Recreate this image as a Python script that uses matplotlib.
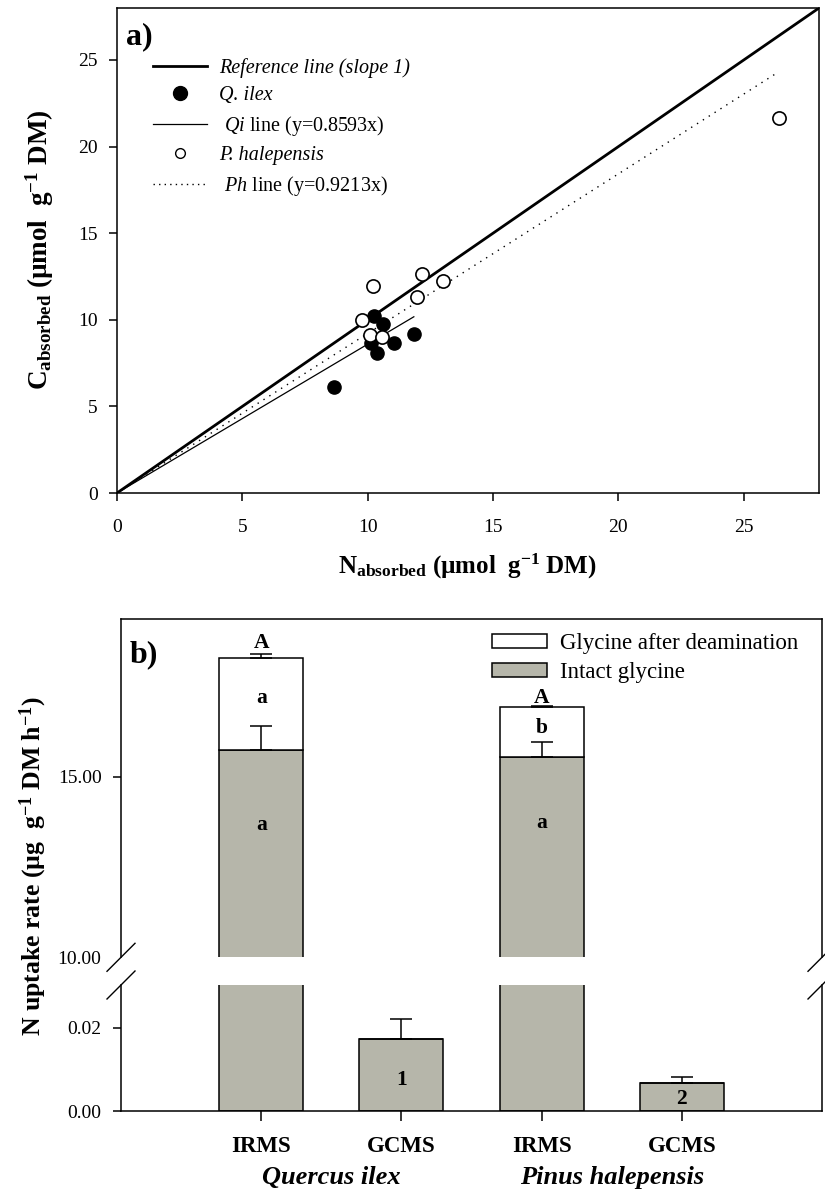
import matplotlib
matplotlib.use("Agg")
import matplotlib.pyplot as plt
from matplotlib.lines import Line2D
from matplotlib.patches import Patch

plt.rcParams['font.family'] = ['Liberation Serif', 'DejaVu Serif']
plt.rcParams['mathtext.fontset'] = 'custom'
plt.rcParams['mathtext.rm'] = 'Liberation Serif'
plt.rcParams['mathtext.it'] = 'Liberation Serif:italic'
plt.rcParams['mathtext.bf'] = 'Liberation Serif:bold'
plt.rcParams['axes.linewidth'] = 1.1

# ---------------- data: panel a ----------------
qi_n = [8.64, 10.25, 10.62, 10.12, 10.39, 11.06, 11.84]
qi_c = [6.14, 10.22, 9.76, 8.68, 8.10, 8.68, 9.18]
ph_n = [26.4, 9.79, 10.10, 10.56, 10.23, 12.15, 11.95, 13.0]
ph_c = [21.65, 9.99, 9.12, 9.02, 11.95, 12.63, 11.33, 12.24]
qi_slope = 0.8593
ph_slope = 0.9213
a_ticks = [0, 5, 10, 15, 20, 25]

# ---------------- data: panel b ----------------
methods = ['IRMS', 'GCMS', 'IRMS', 'GCMS']
species = ['Quercus ilex', 'Pinus halepensis']
intact = [15.74, 0.0172, 15.55, 0.0067]
intact_err = [0.66, 0.0049, 0.40, 0.0014]
deamin = [2.55, 0.0, 1.39, 0.0]
total_err = [0.12, 0.0, 0.03, 0.0]
lab_total = ['A', '', 'A', '']
lab_deamin = ['a', '', 'b', '']
lab_intact = ['a', '1', 'a', '2']

W, H = 825, 1193
fig = plt.figure(figsize=(W / 100, H / 100), dpi=100)


def fx(p):
    return p / W


def fy(p):
    return 1 - p / H


# ================= panel a =================
axA = fig.add_axes([fx(117), fy(493), fx(819 - 117), (493 - 8) / H])
axA.set_xlim(0, 28)
axA.set_ylim(0, 28)
axA.plot([0, 28], [0, 28], color='k', lw=2.0, zorder=2)
xq = max(qi_n)
axA.plot([0, xq], [0, qi_slope * xq], color='k', lw=0.9, zorder=2)
xp = max(ph_n)
axA.plot([0, xp], [0, ph_slope * xp], color='k', lw=1.0,
         linestyle=(0, (1, 4)), zorder=2)
axA.plot(qi_n, qi_c, 'o', color='k', ms=9.5, zorder=3)
axA.plot(ph_n, ph_c, 'o', mfc='white', mec='k', mew=1.2, ms=9.5, zorder=4)
axA.set_xticks(a_ticks)
axA.set_yticks(a_ticks)
axA.tick_params(direction='out', length=6, width=1.1, labelsize=14, pad=8)
axA.tick_params(axis='x', pad=13)

handles = [
    Line2D([], [], color='k', lw=2.0),
    Line2D([], [], ls='none', marker='o', color='k', ms=10),
    Line2D([], [], color='k', lw=0.9),
    Line2D([], [], ls='none', marker='o', mfc='white', mec='k', mew=1.0, ms=7),
    Line2D([], [], color='k', lw=1.0, linestyle=(0, (1, 3))),
]
labels = ['Reference line (slope 1)', 'Q. ilex',
          r' $\mathit{Qi}$ line (y=0.8593x)', 'P. halepensis',
          r' $\mathit{Ph}$ line (y=0.9213x)']
legA = axA.legend(handles, labels, loc='upper left',
                  bbox_to_anchor=((153 - 117) / 702, (493 - 58) / 485),
                  frameon=False, fontsize=14.5, handlelength=2.7,
                  handletextpad=0.6, labelspacing=0.42, borderpad=0,
                  borderaxespad=0)
for i in (0, 1, 3):
    legA.get_texts()[i].set_fontstyle('italic')

fig.text(fx(126), fy(22), 'a)', fontsize=23, fontweight='bold',
         ha='left', va='top')
fig.text(fx(467), fy(566),
         r'N$_{\mathbf{absorbed}}$ (µmol  g$^{\mathbf{-1}}$ DM)',
         fontsize=18, fontweight='bold', ha='center', va='center')
fig.text(fx(40), fy(250),
         r'C$_{\mathbf{absorbed}}$ (µmol  g$^{\mathbf{-1}}$ DM)',
         fontsize=19.5, fontweight='bold', ha='center', va='center',
         rotation=90)

# ================= panel b =================
gray = '#b6b6aa'
xs = [1, 2, 3, 4]
bw = 0.6
axU = fig.add_axes([fx(121), fy(957.3), fx(822 - 121), (957.3 - 619.3) / H])
axL = fig.add_axes([fx(121), fy(1111), fx(822 - 121), (1111 - 985) / H])

for ax in (axU, axL):
    ax.bar(xs, intact, bw, color=gray, edgecolor='k', lw=1.1, zorder=2)
    ax.bar(xs, deamin, bw, bottom=intact, color='white', edgecolor='k',
           lw=1.1, zorder=2)
    ax.errorbar(xs, intact, yerr=[[0] * 4, intact_err], fmt='none',
                ecolor='k', elinewidth=1.1, capsize=8, capthick=1.1, zorder=3)
    tops = [i + d for i, d in zip(intact, deamin)]
    ax.errorbar(xs, tops, yerr=[[0] * 4, total_err], fmt='none',
                ecolor='k', elinewidth=1.1, capsize=8, capthick=1.1, zorder=3)
    ax.set_xlim(0, 5)
    ax.tick_params(direction='out', length=6, width=1.1, labelsize=14,
                   pad=8)

axU.set_ylim(10, 19.36)
axU.set_yticks([10, 15])
axU.set_yticklabels(['10.00', '15.00'])
axU.yaxis.get_major_ticks()[0].tick1line.set_visible(False)
axU.spines['bottom'].set_visible(False)
axU.tick_params(axis='x', bottom=False, labelbottom=False)

axL.set_ylim(0, 0.0302)
axL.set_yticks([0, 0.02])
axL.set_yticklabels(['0.00', '0.02'])
axL.spines['top'].set_visible(False)
axL.set_xticks(xs)
axL.set_xticklabels(methods, fontsize=16.5, fontweight='bold')
axL.tick_params(axis='x', length=7, pad=11)

# letters
y_total_lab = [18.70, None, 17.18, None]
y_deam_lab = [17.18, None, 16.35, None]
y_int_lab = [13.66, 0.0075, 13.72, 0.0028]
for i, x in enumerate(xs):
    if lab_total[i]:
        axU.text(x, y_total_lab[i], lab_total[i], ha='center', va='center',
                 fontsize=15.5, fontweight='bold', zorder=5)
    if lab_deamin[i]:
        axU.text(x, y_deam_lab[i], lab_deamin[i], ha='center', va='center',
                 fontsize=15.5, fontweight='bold', zorder=5)
    target = axU if intact[i] > 1 else axL
    target.text(x, y_int_lab[i], lab_intact[i], ha='center', va='center',
                fontsize=15.5, fontweight='bold', zorder=5)

for k, sp in enumerate(species):
    axL.text((xs[2 * k] + xs[2 * k + 1]) / 2, -0.53, sp,
             transform=axL.get_xaxis_transform(), ha='center', va='center',
             fontsize=19, fontweight='bold', fontstyle='italic')

# break marks
for xp_ in (121, 822):
    for yp in (957.3, 985):
        fig.add_artist(Line2D([fx(xp_ - 14), fx(xp_ + 14)],
                              [fy(yp + 14), fy(yp - 14)],
                              color='k', lw=1.0, transform=fig.transFigure))

fig.text(fx(130), fy(640), 'b)', fontsize=23, fontweight='bold',
         ha='left', va='top')
fig.text(fx(33), fy(866),
         r'N uptake rate (µg  g$^{\mathbf{-1}}$ DM h$^{\mathbf{-1}}$)',
         fontsize=18.5, fontweight='bold', ha='center', va='center',
         rotation=90)

legB_handles = [Patch(facecolor='white', edgecolor='k', lw=1.1),
                Patch(facecolor=gray, edgecolor='k', lw=1.1)]
legB = fig.legend(legB_handles, ['Glycine after deamination', 'Intact glycine'],
                  loc='upper left', bbox_to_anchor=(fx(492), fy(633)),
                  frameon=False, fontsize=16.5, handlelength=2.4,
                  handleheight=0.6, handletextpad=0.55, labelspacing=0.36,
                  borderpad=0, borderaxespad=0)

fig.savefig('out.png', dpi=100)
